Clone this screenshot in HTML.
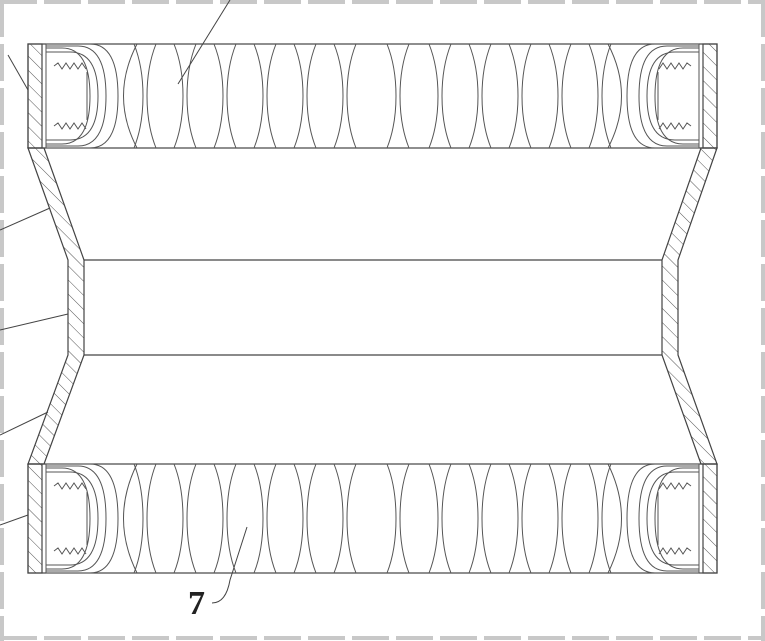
<!DOCTYPE html>
<html><head><meta charset="utf-8"><style>
html,body{margin:0;padding:0;background:#fff;}
svg{display:block;}
</style></head><body>
<svg id="s" width="765" height="641" viewBox="0 0 765 641" xmlns="http://www.w3.org/2000/svg">
<defs>
<pattern id="hatch" patternUnits="userSpaceOnUse" width="10" height="10" patternTransform="rotate(-45)">
<line x1="0" y1="0" x2="0" y2="10" stroke="#555" stroke-width="1"/>
</pattern>
</defs>
<g fill="none" stroke="#c8c8c8" stroke-width="4" stroke-dasharray="37,7">
<line x1="0" y1="2" x2="765" y2="2"/>
<line x1="0" y1="638" x2="765" y2="638"/>
<line x1="2" y1="0" x2="2" y2="641"/>
<line x1="763" y1="0" x2="763" y2="641"/>
</g>
<g id="body" stroke="#444" stroke-width="1.2" fill="none">
<rect x="28" y="44" width="689" height="104"/>
<rect x="28" y="464" width="689" height="109"/>
<line x1="84" y1="260" x2="662" y2="260"/>
<line x1="84" y1="355" x2="662" y2="355"/>
<path d="M28,148 L68,260 L68,355 L28,464 L44,464 L84,355 L84,260 L44,148 Z" fill="url(#hatch)"/>
<path d="M717,148 L678,260 L678,355 L717,464 L701,464 L662,355 L662,260 L701,148 Z" fill="url(#hatch)"/>
<rect x="28" y="44" width="14" height="104" fill="url(#hatch)"/>
<rect x="28" y="464" width="14" height="109" fill="url(#hatch)"/>
<rect x="703" y="44" width="14" height="104" fill="url(#hatch)"/>
<rect x="703" y="464" width="14" height="109" fill="url(#hatch)"/>
</g>
<g id="lenses" stroke="#555" stroke-width="1" fill="none"></g>
<g stroke="#444" stroke-width="1" fill="none">
<line x1="230" y1="0" x2="178" y2="84"/>
<line x1="8" y1="55" x2="28" y2="90"/>
<line x1="0" y1="230" x2="50" y2="208"/>
<line x1="0" y1="330" x2="68" y2="314"/>
<line x1="0" y1="435" x2="48" y2="412"/>
<line x1="0" y1="525" x2="28" y2="515"/>
<path d="M212,603 Q226,603 230,580 L247,527"/>
</g>
<text x="188" y="614" font-family="Liberation Serif, serif" font-size="34" font-weight="bold" fill="#222">7</text>
</svg>
<script>
var ns="http://www.w3.org/2000/svg";
var g=document.getElementById('lenses');
var bands=[[44,148],[464,573]];
var xs=[145,185,225,265,305,345,398,440,480,520,560,600];
function add(d,name){var p=document.createElementNS(ns,'path');p.setAttribute('d',d);


g.appendChild(p);}
bands.forEach(function(b){
 var t=b[0],bt=b[1],m=(t+bt)/2;
 xs.forEach(function(x){
  add('M'+(x-11)+','+t+' C'+(x+1)+','+(t+30)+' '+(x+1)+','+(bt-30)+' '+(x-11)+','+bt,'lens-arc');
  add('M'+(x+11)+','+t+' C'+(x-1)+','+(t+30)+' '+(x-1)+','+(bt-30)+' '+(x+11)+','+bt,'lens-arc');
 });
 [[42,1],[703,-1]].forEach(function(e){
  var x=e[0],s=e[1];
  [[4,48],[8,56],[2,64],[0,76]].forEach(function(q){
   var o=q[0],r=q[1];
   add('M'+(x+s*4)+','+(t+o)+' L'+(x+s*(r-28))+','+(t+o)+' Q'+(x+s*r)+','+(t+o)+' '+(x+s*r)+','+m+' Q'+(x+s*r)+','+(bt-o)+' '+(x+s*(r-28))+','+(bt-o)+' L'+(x+s*4)+','+(bt-o),'end-cap');
  });
  add('M'+(x+s*4)+','+t+' L'+(x+s*4)+','+bt,'end-inner-plate');
  add('M'+(x+s*95)+','+t+' Q'+(x+s*68)+','+m+' '+(x+s*95)+','+bt,'end-arc');
  add('M'+(x+s*45)+','+(t+28)+' L'+(x+s*45)+','+(bt-28),'cap-plate');
  [t+22,bt-22].forEach(function(y){
   var d='M'+(x+s*12)+','+y;
   for(var k=1;k<=8;k++){d+=' L'+(x+s*(12+k*4))+','+(y+(k%2?-3:3));}
   add(d,'spring');
  });
 });
});
</script>
</body></html>
